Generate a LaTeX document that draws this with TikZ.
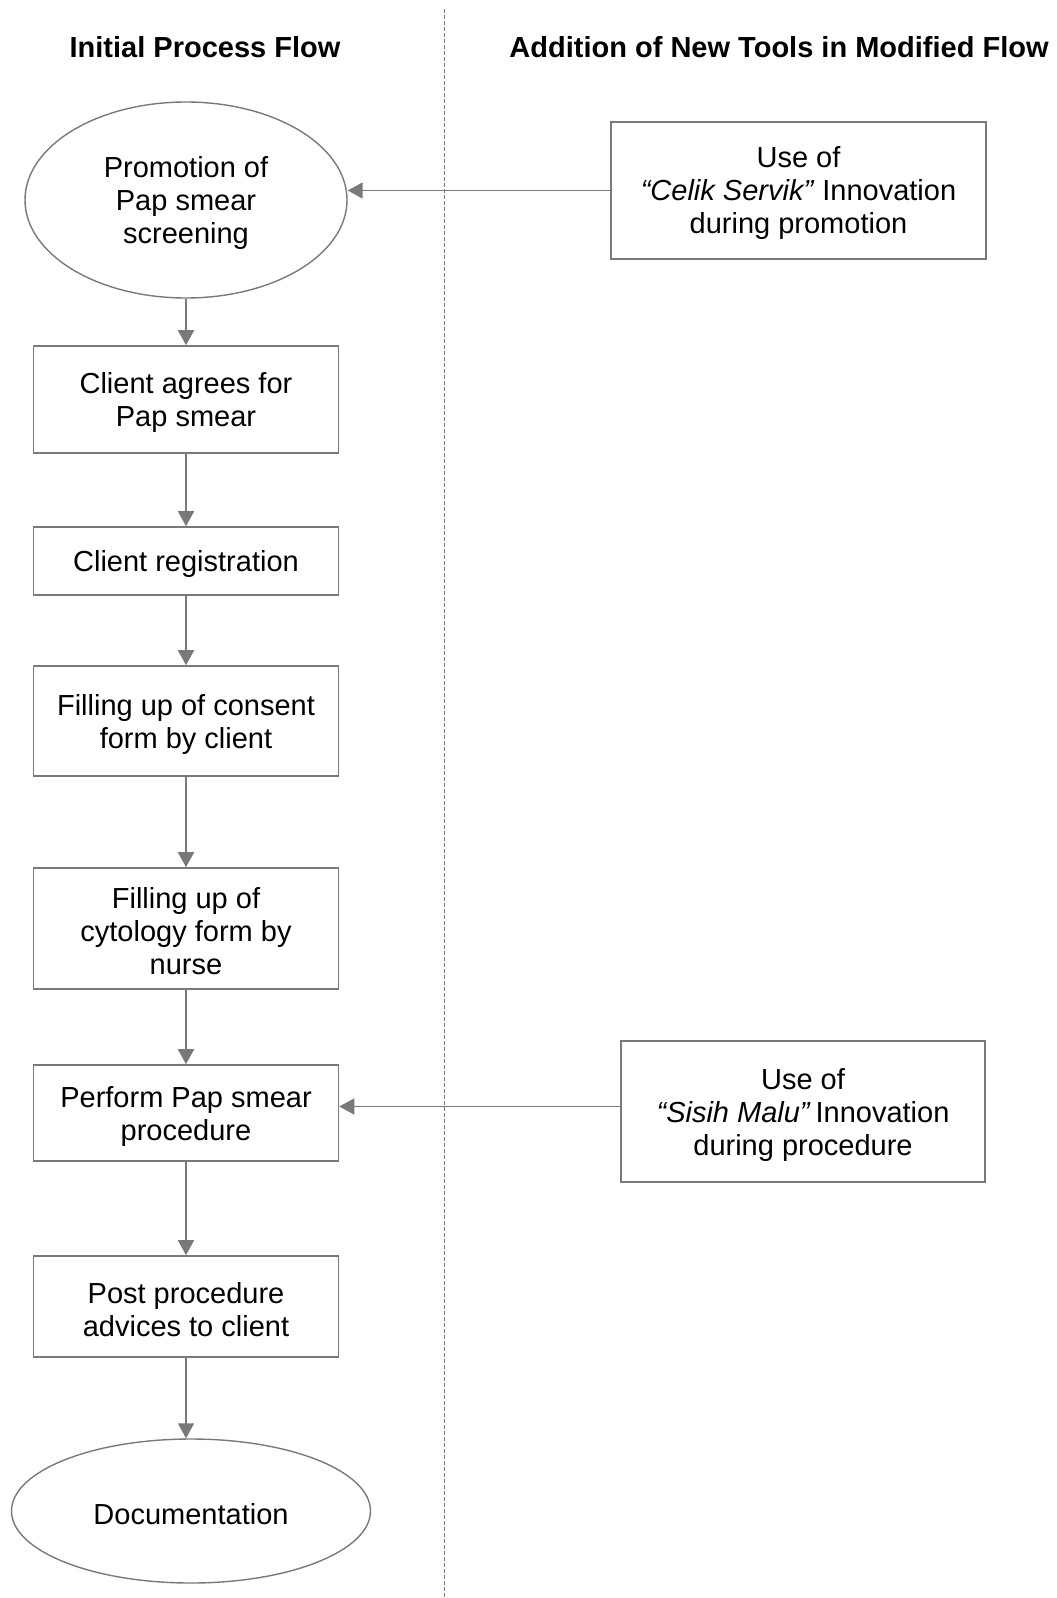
\documentclass[tikz,border=0pt]{standalone}
\usepackage{fontspec}
\setmainfont{Liberation Sans}
\usetikzlibrary{shapes.geometric,arrows.meta}
\definecolor{lgray}{RGB}{122,120,120}
\newcommand{\tstrut}{\rule{0pt}{27pt}}
\tikzset{
  stepbox/.style={draw=lgray, line width=1.6pt, rectangle, inner sep=0pt, align=center, font=\fontsize{29}{33}\selectfont},
  oval/.style={draw=lgray, line width=1.4pt, ellipse, inner sep=0pt, align=center, font=\fontsize{29}{33}\selectfont},
  flow/.style={draw=lgray, line width=1.7pt, -{Triangle[width=16pt,length=15pt]}, color=lgray},
  titletext/.style={font=\fontsize{29}{33}\selectfont\bfseries},
  divider/.style={draw=lgray, line width=0.9pt, dash pattern=on 4pt off 2pt}
}
\begin{document}
\begin{tikzpicture}[x=1pt,y=-1pt]
\useasboundingbox (0,0) rectangle (1057,1598);
\coordinate (dtop) at (444,9);
\coordinate (dbot) at (444,1598);
\draw[divider] (dtop) -- (dbot);

\node[titletext] (t1) at (205,47) {Initial Process Flow};
\node[titletext] (t2) at (779,47) {Addition of New Tools in Modified Flow};

\node[oval, minimum width=322pt, minimum height=196pt] (e1) at (186,200) {\tstrut Promotion of\\Pap smear\\screening};
\node[stepbox, minimum width=305pt, minimum height=107pt] (b1) at (186,399.5) {\tstrut Client agrees for\\Pap smear};
\node[stepbox, minimum width=305pt, minimum height=68pt] (b2) at (186,561) {\tstrut Client registration};
\node[stepbox, minimum width=305pt, minimum height=110pt] (b3) at (186,721) {\tstrut Filling up of consent\\form by client};
\node[stepbox, minimum width=305pt, minimum height=121pt] (b4) at (186,928.5) {\tstrut Filling up of\\cytology form by\\nurse};
\node[stepbox, minimum width=305pt, minimum height=96pt] (b5) at (186,1113) {\tstrut Perform Pap smear\\procedure};
\node[stepbox, minimum width=305pt, minimum height=101pt] (b6) at (186,1306.5) {\tstrut Post procedure\\advices to client};
\node[oval, minimum width=359pt, minimum height=144pt] (e2) at (191,1511) {\tstrut Documentation};

\node[stepbox, minimum width=375pt, minimum height=137pt] (c1) at (798.5,190.5) {\tstrut Use of\\\textit{“Celik Servik”} Innovation\\during promotion};
\node[stepbox, minimum width=364pt, minimum height=141pt] (s1) at (803,1111.5) {\tstrut Use of\\\textit{“Sisih Malu”}\,Innovation\\during procedure};

\draw[flow] (e1.south) -- (b1.north);
\draw[flow] (b1) -- (b2);
\draw[flow] (b2) -- (b3);
\draw[flow] (b3) -- (b4);
\draw[flow] (b4) -- (b5);
\draw[flow] (b5) -- (b6);
\draw[flow] (b6.south) -- (b6.south |- e2.north);
\draw[flow] (c1.west) -- (c1.west -| e1.east);
\draw[flow] ([yshift=5pt]s1.west) -- ([yshift=5pt]s1.west -| b5.east);
\end{tikzpicture}
\end{document}
